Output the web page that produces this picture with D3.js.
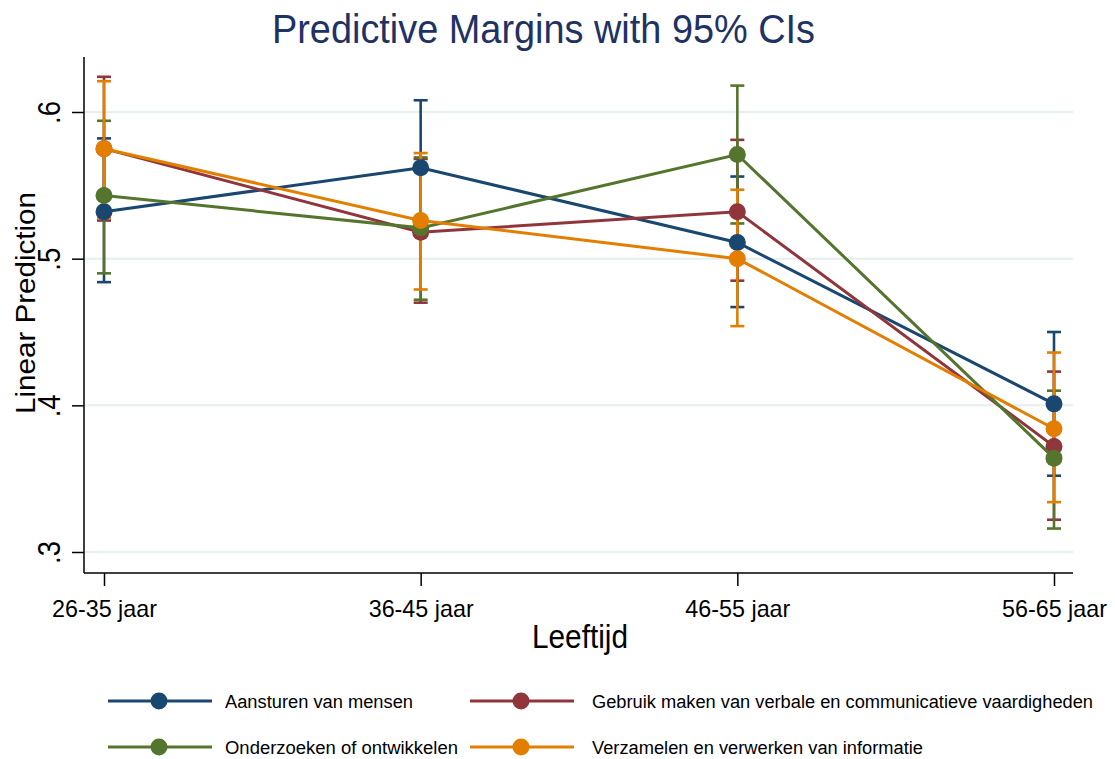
<!DOCTYPE html>
<html>
<head>
<meta charset="utf-8">
<script src="https://cdn.jsdelivr.net/npm/d3@7"></script>
<style>
  body { margin: 0; background: #ffffff; }
  svg { display: block; font-family: "Liberation Sans", Arial, Helvetica, sans-serif; }
</style>
</head>
<body>
<svg id="margins" width="1115" height="759"></svg>
<script>
// categories on the x axis
var categories = ["26-35 jaar", "36-45 jaar", "46-55 jaar", "56-65 jaar"]

// y ticks
var yTickValues = [0.3, 0.4, 0.5, 0.6]
var yTickLabels = [".3", ".4", ".5", ".6"]

// series names (legend order)
var seriesNames = [
  "Aansturen van mensen",
  "Gebruik maken van verbale en communicatieve vaardigheden",
  "Onderzoeken of ontwikkelen",
  "Verzamelen en verwerken van informatie"
]

// predicted margins and 95% CI bounds
var aansturen     = [0.532, 0.562, 0.511, 0.401]
var aansturenLo   = [0.484, 0.516, 0.467, 0.352]
var aansturenHi   = [0.582, 0.608, 0.556, 0.450]

var gebruik       = [0.575, 0.518, 0.532, 0.372]
var gebruikLo     = [0.526, 0.470, 0.485, 0.322]
var gebruikHi     = [0.624, 0.568, 0.581, 0.423]

var onderzoeken   = [0.543, 0.521, 0.571, 0.364]
var onderzoekenLo = [0.490, 0.472, 0.524, 0.316]
var onderzoekenHi = [0.594, 0.569, 0.618, 0.410]

var verzamelen    = [0.575, 0.526, 0.500, 0.384]
var verzamelenLo  = [0.528, 0.479, 0.454, 0.334]
var verzamelenHi  = [0.621, 0.572, 0.547, 0.436]

var seriesColors = ["#1a476f", "#90353b", "#55752f", "#e37e00"]

var buildData = function() {
  var vals = [aansturen, gebruik, onderzoeken, verzamelen]
  var los = [aansturenLo, gebruikLo, onderzoekenLo, verzamelenLo]
  var his = [aansturenHi, gebruikHi, onderzoekenHi, verzamelenHi]
  return seriesNames.map(function(name, s) {
    return {
      name: name,
      color: seriesColors[s],
      values: categories.map(function(c, i) {
        return {cat: c, value: vals[s][i], lo: los[s][i], hi: his[s][i]}
      })
    }
  })
}

var drawAxes = function(svg, xScale, yScale, plot) {
  // gridlines
  svg.append("g").selectAll("line")
    .data(yTickValues)
    .enter()
    .append("line")
      .attr("x1", plot.left + 1)
      .attr("x2", plot.right)
      .attr("y1", function(d){ return yScale(d) })
      .attr("y2", function(d){ return yScale(d) })
      .style("stroke", "#e6eef0")
      .style("stroke-width", 2)

  var yAxis = d3.axisLeft(yScale)
    .tickValues(yTickValues)
    .tickFormat(function(d, i){ return yTickLabels[i] })
    .tickSize(12)
    .tickPadding(0)
  var gy = svg.append("g").attr("class", "axis-y")
    .attr("transform", "translate(" + plot.left + ",0)")
    .call(yAxis)
  gy.select(".domain").remove()
  gy.selectAll(".tick line").style("stroke", "#000").style("stroke-width", 1.5)
  gy.selectAll(".tick text")
    .attr("x", null).attr("dy", null)
    .attr("text-anchor", "middle")
    .attr("transform", "translate(-24,0) rotate(-90)")
    .style("font-size", "31px")
    .style("font-family", "'Liberation Sans', Arial, sans-serif")
    .attr("textLength", 23)
    .attr("lengthAdjust", "spacingAndGlyphs")
    .style("fill", "#000")

  var xAxis = d3.axisBottom(xScale).tickSize(13).tickPadding(4)
  var gx = svg.append("g").attr("class", "axis-x")
    .attr("transform", "translate(0," + plot.bottom + ")")
    .call(xAxis)
  gx.select(".domain").remove()
  gx.selectAll(".tick line").style("stroke", "#000").style("stroke-width", 1.5)
  gx.selectAll(".tick text")
    .attr("y", 44).attr("dy", null)
    .style("font-size", "24px")
    .style("font-family", "'Liberation Sans', Arial, sans-serif")
    .attr("textLength", 105)
    .attr("lengthAdjust", "spacingAndGlyphs")
    .style("fill", "#000")

  // axis lines
  svg.append("line")
    .attr("x1", plot.left).attr("x2", plot.left)
    .attr("y1", plot.top).attr("y2", plot.bottom)
    .style("stroke", "#000").style("stroke-width", 1.5)
  svg.append("line")
    .attr("x1", plot.left).attr("x2", plot.right)
    .attr("y1", plot.bottom).attr("y2", plot.bottom)
    .style("stroke", "#000").style("stroke-width", 1.5)
}

var drawSeries = function(svg, dataReady, xScale, yScale) {
  var cap = 7

  // confidence intervals first
  var ci = svg.selectAll("myCI")
    .data(dataReady)
    .enter()
    .append("g")
      .style("stroke", function(d){ return d.color })
      .style("stroke-width", 2.6)
  var bars = ci.selectAll("myBar")
    .data(function(d){ return d.values })
    .enter()
    .append("g")
  bars.append("line")
    .attr("x1", function(d){ return xScale(d.cat) })
    .attr("x2", function(d){ return xScale(d.cat) })
    .attr("y1", function(d){ return yScale(d.lo) })
    .attr("y2", function(d){ return yScale(d.hi) })
  bars.append("line")
    .attr("x1", function(d){ return xScale(d.cat) - cap })
    .attr("x2", function(d){ return xScale(d.cat) + cap })
    .attr("y1", function(d){ return yScale(d.lo) })
    .attr("y2", function(d){ return yScale(d.lo) })
  bars.append("line")
    .attr("x1", function(d){ return xScale(d.cat) - cap })
    .attr("x2", function(d){ return xScale(d.cat) + cap })
    .attr("y1", function(d){ return yScale(d.hi) })
    .attr("y2", function(d){ return yScale(d.hi) })

  var line = d3.line()
    .x(function(d){ return xScale(d.cat) })
    .y(function(d){ return yScale(d.value) })

  // connected lines with markers
  var grp = svg.selectAll("myLines")
    .data(dataReady)
    .enter()
    .append("g")
  grp.append("path")
    .attr("d", function(d){ return line(d.values) })
    .style("stroke", function(d){ return d.color })
    .style("stroke-width", 3)
    .style("fill", "none")
  grp.selectAll("myPoints")
    .data(function(d){ return d.values.map(function(v){ return {v: v, color: d.color} }) })
    .enter()
    .append("circle")
      .attr("cx", function(d){ return xScale(d.v.cat) })
      .attr("cy", function(d){ return yScale(d.v.value) })
      .attr("r", 8.5)
      .style("fill", function(d){ return d.color })
}

var drawLegend = function(svg, dataReady) {
  var cols = [108, 470]
  var textX = [117, 122]
  var rows = [701, 747]
  var textLen = [188, 501, 233, 331]
  var item = svg.selectAll("myLegend")
    .data(dataReady)
    .enter()
    .append("g")
      .attr("transform", function(d, i){
        return "translate(" + cols[i % 2] + "," + rows[Math.floor(i / 2)] + ")" })
  item.append("line")
    .attr("x1", 0).attr("x2", 104)
    .attr("y1", 0).attr("y2", 0)
    .style("stroke", function(d){ return d.color })
    .style("stroke-width", 3)
  item.append("circle")
    .attr("cx", 51).attr("cy", 0).attr("r", 8.5)
    .style("fill", function(d){ return d.color })
  item.append("text")
    .attr("x", function(d, i){ return textX[i % 2] })
    .attr("y", 6.5)
    .text(function(d){ return d.name })
    .style("font-size", "18px")
    .attr("textLength", function(d, i){ return textLen[i] })
    .attr("lengthAdjust", "spacingAndGlyphs")
    .style("fill", "#000")
}

var drawLabels = function(svg, plot) {
  svg.append("text")
    .text("Predictive Margins with 95% CIs")
    .attr("x", 543.5)
    .attr("y", 43)
    .attr("text-anchor", "middle")
    .style("font-size", "41px")
    .attr("textLength", 543)
    .attr("lengthAdjust", "spacingAndGlyphs")
    .style("fill", "#1e3263")

  svg.append("text")
    .text("Leeftijd")
    .attr("x", 580)
    .attr("y", 648)
    .attr("text-anchor", "middle")
    .style("font-size", "33px")
    .attr("textLength", 96)
    .attr("lengthAdjust", "spacingAndGlyphs")
    .style("fill", "#000")

  svg.append("text")
    .text("Linear Prediction")
    .attr("text-anchor", "middle")
    .attr("transform", "translate(35,303) rotate(-90)")
    .style("font-size", "28px")
    .attr("textLength", 222)
    .attr("lengthAdjust", "spacingAndGlyphs")
    .style("fill", "#000")
}

var initGraph = function() {
  var svg = d3.select("#margins")
  var plot = {left: 84, right: 1073, top: 57, bottom: 573}

  var xScale = d3.scalePoint()
    .domain(categories)
    .range([104, 1054])

  var yScale = d3.scaleLinear()
    .domain([0.3, 0.6])
    .range([552, 112])

  var dataReady = buildData()

  drawAxes(svg, xScale, yScale, plot)
  drawSeries(svg, dataReady, xScale, yScale)
  drawLegend(svg, dataReady)
  drawLabels(svg, plot)
}

initGraph()
</script>
</body>
</html>
